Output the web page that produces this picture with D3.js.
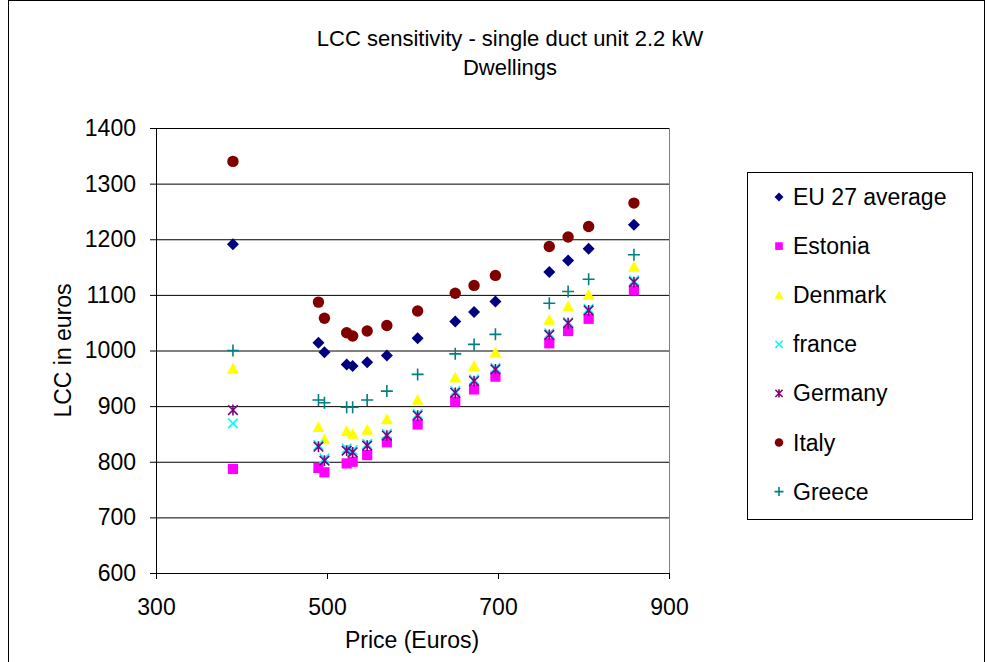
<!DOCTYPE html>
<html>
<head>
<meta charset="utf-8">
<script src="https://cdn.jsdelivr.net/npm/d3@7/dist/d3.min.js"></script>
<style>
  html, body { margin: 0; padding: 0; background: #fff; }
  svg { display: block; font-family: "Liberation Sans", Arial, sans-serif; }
</style>
</head>
<body>
<svg id="chart" width="987" height="662"></svg>
<script>
// ---- data ----
const prices = [390, 490, 497, 523, 530, 547, 570, 606, 650, 672, 697, 760, 782, 806, 859];
const eu27    = [1191, 1014, 997, 975, 972, 979, 991, 1022, 1052, 1069, 1088, 1141, 1162, 1183, 1226];
const estonia = [787, 789, 781, 797, 800, 812, 835, 867, 908, 930, 953, 1013, 1035, 1057, 1108];
const denmark = [967, 862, 840, 855, 850, 857, 876, 911, 951, 972, 996, 1055, 1079, 1100, 1150];
const france  = [869, 830, 806, 824, 821, 832, 850, 886, 927, 948, 969, 1031, 1051, 1075, 1126];
const germany = [893, 827, 802, 820, 817, 829, 847, 883, 924, 945, 966, 1028, 1049, 1072, 1123];
const italy   = [1340, 1087, 1058, 1032, 1026, 1035, 1045, 1071, 1103, 1117, 1135, 1187, 1204, 1223, 1265];
const greece  = [1000, 911, 906, 898, 898, 911, 927, 957, 994, 1011, 1029, 1085, 1106, 1128, 1172];

const seriesNames = ["EU 27 average", "Estonia", "Denmark", "france", "Germany", "Italy", "Greece"];
const seriesValues = [eu27, estonia, denmark, france, germany, italy, greece];
const seriesColors = ["#000080", "#FF00FF", "#FFFF00", "#00FFFF", "#800080", "#800000", "#008080"];
const seriesShapes = ["diamond", "square", "triangle", "x", "asterisk", "circle", "plus"];

const xTicks = [300, 500, 700, 900];
const yTicks = [600, 700, 800, 900, 1000, 1100, 1200, 1300, 1400];

const titleLines = ["LCC sensitivity - single duct unit 2.2 kW", "Dwellings"];
const xLabel = "Price (Euros)";
const yLabel = "LCC in euros";

// ---- layout ----
const FS = 23;
const svg = d3.select("#chart");
const plot = { left: 156, right: 669, top: 128, bottom: 573 };

const x = d3.scaleLinear().domain([300, 900]).range([plot.left, plot.right]);
const y = d3.scaleLinear().domain([600, 1400]).range([plot.bottom, plot.top]);

// outer frame
svg.append("rect")
  .attr("x", 8.5).attr("y", 0.5).attr("width", 976).attr("height", 680)
  .attr("fill", "none").attr("stroke", "#000").attr("stroke-width", 1);

// title
svg.append("g").selectAll("text").data(titleLines).join("text")
  .attr("x", 510).attr("y", (d, i) => 46 + i * 29)
  .attr("text-anchor", "middle")
  .attr("font-size", 22)
  .attr("fill", "#000")
  .text(d => d);

// plot right border
svg.append("line")
  .attr("x1", plot.right + 0.5).attr("x2", plot.right + 0.5)
  .attr("y1", plot.top).attr("y2", plot.bottom)
  .attr("stroke", "#808080").attr("stroke-width", 1);

// gridlines
svg.append("g")
  .attr("transform", `translate(${plot.left},0)`)
  .call(d3.axisLeft(y).tickValues(yTicks.filter(v => v > 600)).tickSize(-(plot.right - plot.left)).tickFormat(""))
  .call(g => g.select(".domain").remove())
  .call(g => g.selectAll("line").attr("stroke", "#000").attr("stroke-width", 1));

// y axis
const yAxis = svg.append("g")
  .attr("transform", `translate(${plot.left},0)`)
  .call(d3.axisLeft(y).tickValues(yTicks).tickSize(6).tickPadding(14).tickFormat(d3.format("d")));
yAxis.selectAll("text").attr("font-size", FS).attr("fill", "#000").attr("font-family", "Liberation Sans, Arial, sans-serif");
yAxis.selectAll("line,path").attr("stroke", "#000");

// x axis
const xAxis = svg.append("g")
  .attr("transform", `translate(0,${plot.bottom})`)
  .call(d3.axisBottom(x).tickValues(xTicks).tickSize(6).tickPadding(20).tickFormat(d3.format("d")));
xAxis.selectAll("text").attr("font-size", FS).attr("fill", "#000").attr("font-family", "Liberation Sans, Arial, sans-serif");
xAxis.selectAll("line,path").attr("stroke", "#000");

// axis labels
svg.append("text")
  .attr("x", 412).attr("y", 648)
  .attr("text-anchor", "middle").attr("font-size", FS).attr("fill", "#000")
  .text(xLabel);
svg.append("text")
  .attr("transform", `translate(71,${(plot.top + plot.bottom) / 2}) rotate(-90)`)
  .attr("text-anchor", "middle").attr("font-size", FS).attr("fill", "#000")
  .text(yLabel);

// marker drawing
function drawMarker(g, shape, color, s) {
  switch (shape) {
    case "diamond":
      g.append("path").attr("d", `M0,${-s}L${s},0L0,${s}L${-s},0Z`).attr("fill", color);
      break;
    case "square":
      g.append("rect").attr("x", -s * 0.85).attr("y", -s * 0.85).attr("width", s * 1.7).attr("height", s * 1.7).attr("fill", color);
      break;
    case "triangle":
      g.append("path").attr("d", `M0,${-s}L${s},${s * 0.8}L${-s},${s * 0.8}Z`).attr("fill", color);
      break;
    case "circle":
      g.append("circle").attr("r", s * 0.95).attr("fill", color);
      break;
    case "x":
      g.append("path").attr("d", `M${-s * 0.8},${-s * 0.8}L${s * 0.8},${s * 0.8}M${s * 0.8},${-s * 0.8}L${-s * 0.8},${s * 0.8}`)
        .attr("stroke", color).attr("stroke-width", 1.6).attr("fill", "none");
      break;
    case "asterisk":
      g.append("path").attr("d", `M${-s * 0.8},${-s * 0.8}L${s * 0.8},${s * 0.8}M${s * 0.8},${-s * 0.8}L${-s * 0.8},${s * 0.8}M0,${-s * 0.9}L0,${s * 0.9}`)
        .attr("stroke", color).attr("stroke-width", 1.6).attr("fill", "none");
      break;
    case "plus":
      g.append("path").attr("d", `M${-s},0L${s},0M0,${-s}L0,${s}`)
        .attr("stroke", color).attr("stroke-width", 1.6).attr("fill", "none");
      break;
  }
}

// points
seriesValues.forEach((vals, si) => {
  const g = svg.append("g");
  prices.forEach((p, i) => {
    const m = g.append("g").attr("transform", `translate(${x(p)},${y(vals[i])})`);
    drawMarker(m, seriesShapes[si], seriesColors[si], 6);
  });
});

// legend
const legend = { x: 747, y: 172, w: 225, h: 347 };
svg.append("rect")
  .attr("x", legend.x + 0.5).attr("y", legend.y + 0.5).attr("width", legend.w).attr("height", legend.h)
  .attr("fill", "#fff").attr("stroke", "#000").attr("stroke-width", 1);
const lg = svg.append("g").selectAll("g").data(seriesNames).join("g")
  .attr("transform", (d, i) => `translate(${legend.x + 32},${legend.y + 25 + i * 49.1})`);
lg.each(function (d, i) {
  drawMarker(d3.select(this), seriesShapes[i], seriesColors[i], 4.5);
});
lg.append("text")
  .attr("x", 14).attr("y", 8)
  .attr("font-size", FS).attr("fill", "#000")
  .text(d => d);
</script>
</body>
</html>
